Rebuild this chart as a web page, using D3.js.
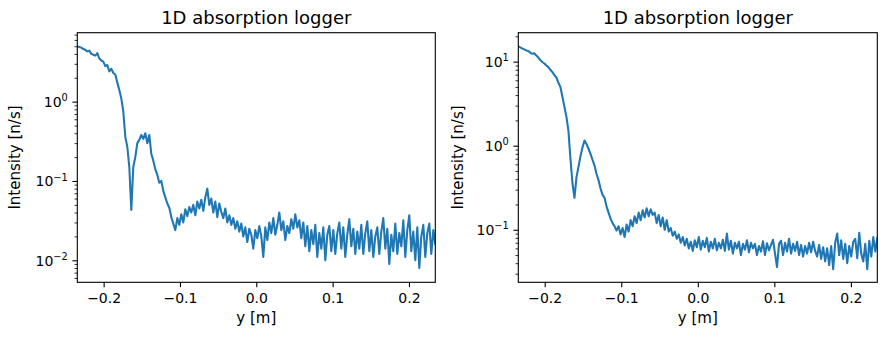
<!DOCTYPE html>
<html>
<head>
<meta charset="utf-8">
<script src="https://cdn.jsdelivr.net/npm/d3@7"></script>
<style>
  html, body { margin: 0; padding: 0; background: #fff; }
  svg { display: block; font-family: "DejaVu Sans", sans-serif; }
</style>
</head>
<body>
<svg id="chart" width="887" height="337"></svg>
<script>
// ---------------- data ----------------
const chartTitle = "1D absorption logger";
const xLabel = "y [m]";
const yLabel = "Intensity [n/s]";
const positionStart = -0.2345;   // first sample position [m]
const positionEnd = 0.2345;      // last sample position [m]
const xTickValues = [-0.2, -0.1, 0.0, 0.1, 0.2];
const xTickLabels = ["\u22120.2", "\u22120.1", "0.0", "0.1", "0.2"];

// left panel intensities [n/s]
const leftIntensity = [
  5.0,4.9,4.8,4.6,4.5,4.3,4.4,4.0,3.9,3.8,
  4.1,3.5,3.3,3.2,2.8,2.9,2.4,2.6,2.3,2.2,
  1.75,1.4,1.1,0.75,0.36,0.27,0.15,0.043,0.15,0.20,
  0.30,0.33,0.38,0.34,0.40,0.30,0.38,0.22,0.18,0.14,
  0.12,0.095,0.10,0.075,0.062,0.052,0.046,0.035,0.029,0.024,
  0.034,0.028,0.038,0.030,0.044,0.036,0.047,0.040,0.050,0.037,
  0.055,0.045,0.058,0.042,0.062,0.080,0.050,0.060,0.040,0.055,
  0.035,0.052,0.041,0.034,0.045,0.030,0.037,0.028,0.034,0.025,
  0.031,0.023,0.029,0.020,0.026,0.017,0.025,0.021,0.014,0.024,
  0.019,0.027,0.020,0.011,0.026,0.018,0.030,0.022,0.034,0.021,
  0.028,0.040,0.024,0.031,0.018,0.027,0.022,0.033,0.025,0.038,
  0.026,0.032,0.019,0.030,0.015,0.027,0.013,0.024,0.016,0.028,
  0.011,0.022,0.014,0.026,0.010,0.021,0.027,0.013,0.024,0.012,
  0.022,0.030,0.014,0.026,0.011,0.021,0.033,0.015,0.025,0.012,
  0.023,0.014,0.028,0.012,0.022,0.031,0.013,0.024,0.011,0.020,
  0.026,0.012,0.023,0.034,0.014,0.025,0.009,0.021,0.013,0.029,
  0.012,0.022,0.015,0.032,0.011,0.024,0.037,0.013,0.023,0.010,
  0.026,0.008,0.020,0.028,0.011,0.022,0.029,0.012,0.024,0.016
];

// right panel intensities [n/s]
const rightIntensity = [
  15.2,14.8,14.3,14.0,13.6,13.4,12.8,12.4,12.6,11.8,
  11.2,10.4,9.9,9.5,9.0,8.6,8.0,7.5,6.9,6.5,
  5.6,5.0,3.8,2.9,2.2,1.5,0.70,0.36,0.24,0.42,
  0.56,0.75,0.95,1.15,1.05,0.92,0.80,0.68,0.58,0.46,
  0.39,0.31,0.26,0.24,0.19,0.16,0.135,0.12,0.11,0.098,
  0.11,0.088,0.105,0.082,0.115,0.095,0.13,0.11,0.145,0.12,
  0.16,0.13,0.17,0.14,0.18,0.145,0.175,0.15,0.16,0.12,
  0.15,0.11,0.14,0.10,0.13,0.095,0.105,0.085,0.095,0.078,
  0.088,0.070,0.082,0.065,0.078,0.060,0.072,0.056,0.075,0.062,
  0.082,0.058,0.074,0.062,0.080,0.055,0.072,0.060,0.078,0.057,
  0.070,0.060,0.076,0.056,0.090,0.058,0.074,0.052,0.070,0.060,
  0.072,0.050,0.068,0.058,0.075,0.054,0.070,0.060,0.068,0.050,
  0.064,0.055,0.073,0.050,0.069,0.057,0.066,0.076,0.052,0.036,
  0.068,0.074,0.050,0.070,0.055,0.078,0.052,0.068,0.056,0.072,
  0.050,0.066,0.048,0.064,0.052,0.070,0.054,0.072,0.056,0.048,
  0.066,0.045,0.062,0.042,0.060,0.038,0.064,0.034,0.070,0.090,
  0.050,0.075,0.045,0.068,0.040,0.064,0.048,0.072,0.078,0.046,
  0.092,0.052,0.042,0.068,0.034,0.074,0.048,0.082,0.055,0.080
];

const leftYDomain = [0.00528, 7.4];
const rightYDomain = [0.0237, 22.1];
const leftYTickExponents = [-2, -1, 0];
const rightYTickExponents = [-1, 0, 1];

// ---------------- drawing ----------------
const svg = d3.select("#chart");
const lineColor = "#1f77b4";
const tickFont = 14;

function sup(e) { return e < 0 ? "\u2212" + Math.abs(e) : String(e); }

function panel(opts) {
  const { left, right, top, bottom, values, yDomain, exps, id, ylabelX } = opts;
  const n = values.length;
  const positions = values.map((_, i) => positionStart + (positionEnd - positionStart) * i / (n - 1));
  const x = d3.scaleLinear().domain([positionStart, positionEnd]).range([left, right]);
  const y = d3.scaleLog().domain(yDomain).range([bottom, top]);
  const g = svg.append("g");

  g.append("clipPath").attr("id", id).append("rect")
    .attr("x", left).attr("y", top).attr("width", right - left).attr("height", bottom - top);

  const line = d3.line().x((d, i) => x(positions[i])).y(d => y(d));
  g.append("path").datum(values)
    .attr("clip-path", `url(#${id})`)
    .attr("fill", "none").attr("stroke", lineColor).attr("stroke-width", 2.08)
    .attr("stroke-linejoin", "round").attr("stroke-linecap", "square")
    .attr("d", line);

  // x axis
  const xAxis = d3.axisBottom(x).tickValues(xTickValues).tickSize(4.9).tickPadding(5.5)
    .tickFormat((d, i) => xTickLabels[i]);
  const gx = g.append("g").attr("transform", `translate(0,${bottom})`).call(xAxis);
  gx.select(".domain").remove();
  gx.selectAll("line").attr("stroke", "#000").attr("stroke-width", 1.1);
  gx.selectAll("text").attr("font-size", tickFont).attr("font-family", "DejaVu Sans").attr("fill", "#000");

  // y minor ticks
  const [lo, hi] = yDomain;
  const minor = [];
  for (let e = Math.floor(Math.log10(lo)); e <= Math.ceil(Math.log10(hi)); e++) {
    for (let m = 2; m <= 9; m++) {
      const v = m * Math.pow(10, e);
      if (v >= lo && v <= hi) minor.push(v);
    }
  }
  const gyMinor = g.append("g").attr("transform", `translate(${left},0)`)
    .call(d3.axisLeft(y).tickValues(minor).tickSize(2.8).tickFormat(""));
  gyMinor.select(".domain").remove();
  gyMinor.selectAll("line").attr("stroke", "#000").attr("stroke-width", 0.8);

  const majors = exps.map(e => Math.pow(10, e));
  const gy = g.append("g").attr("transform", `translate(${left},0)`)
    .call(d3.axisLeft(y).tickValues(majors).tickSize(4.9).tickFormat(""));
  gy.select(".domain").remove();
  gy.selectAll("line").attr("stroke", "#000").attr("stroke-width", 1.1);

  // y tick labels with superscript exponent
  exps.forEach(e => {
    const t = g.append("text")
      .attr("x", left - 9.5)
      .attr("y", y(Math.pow(10, e)) + 5.4)
      .attr("text-anchor", "end")
      .attr("font-size", tickFont).attr("fill", "#000");
    t.append("tspan").text("10");
    t.append("tspan").attr("dy", -5.8).attr("font-size", 9.8).text(sup(e));
  });

  // frame
  g.append("rect").attr("x", left).attr("y", top)
    .attr("width", right - left).attr("height", bottom - top)
    .attr("fill", "none").attr("stroke", "#000").attr("stroke-width", 1.1);

  // title
  g.append("text").attr("x", (left + right) / 2).attr("y", 24)
    .attr("text-anchor", "middle").attr("font-size", 18).attr("fill", "#000")
    .text(chartTitle);
  // x label
  g.append("text").attr("x", (left + right) / 2).attr("y", 323)
    .attr("text-anchor", "middle").attr("font-size", 15).attr("fill", "#000")
    .text(xLabel);
  // y label
  g.append("text")
    .attr("transform", `translate(${ylabelX},${(top + bottom) / 2}) rotate(-90)`)
    .attr("text-anchor", "middle").attr("font-size", 15).attr("fill", "#000")
    .text(yLabel);
}

panel({ left: 77.3, right: 435.3, top: 32.7, bottom: 282.3, values: leftIntensity,
        yDomain: leftYDomain, exps: leftYTickExponents, id: "clipL", ylabelX: 20.2 });
panel({ left: 518.3, right: 877.3, top: 32.7, bottom: 282.3, values: rightIntensity,
        yDomain: rightYDomain, exps: rightYTickExponents, id: "clipR", ylabelX: 462.6 });
</script>
</body>
</html>
